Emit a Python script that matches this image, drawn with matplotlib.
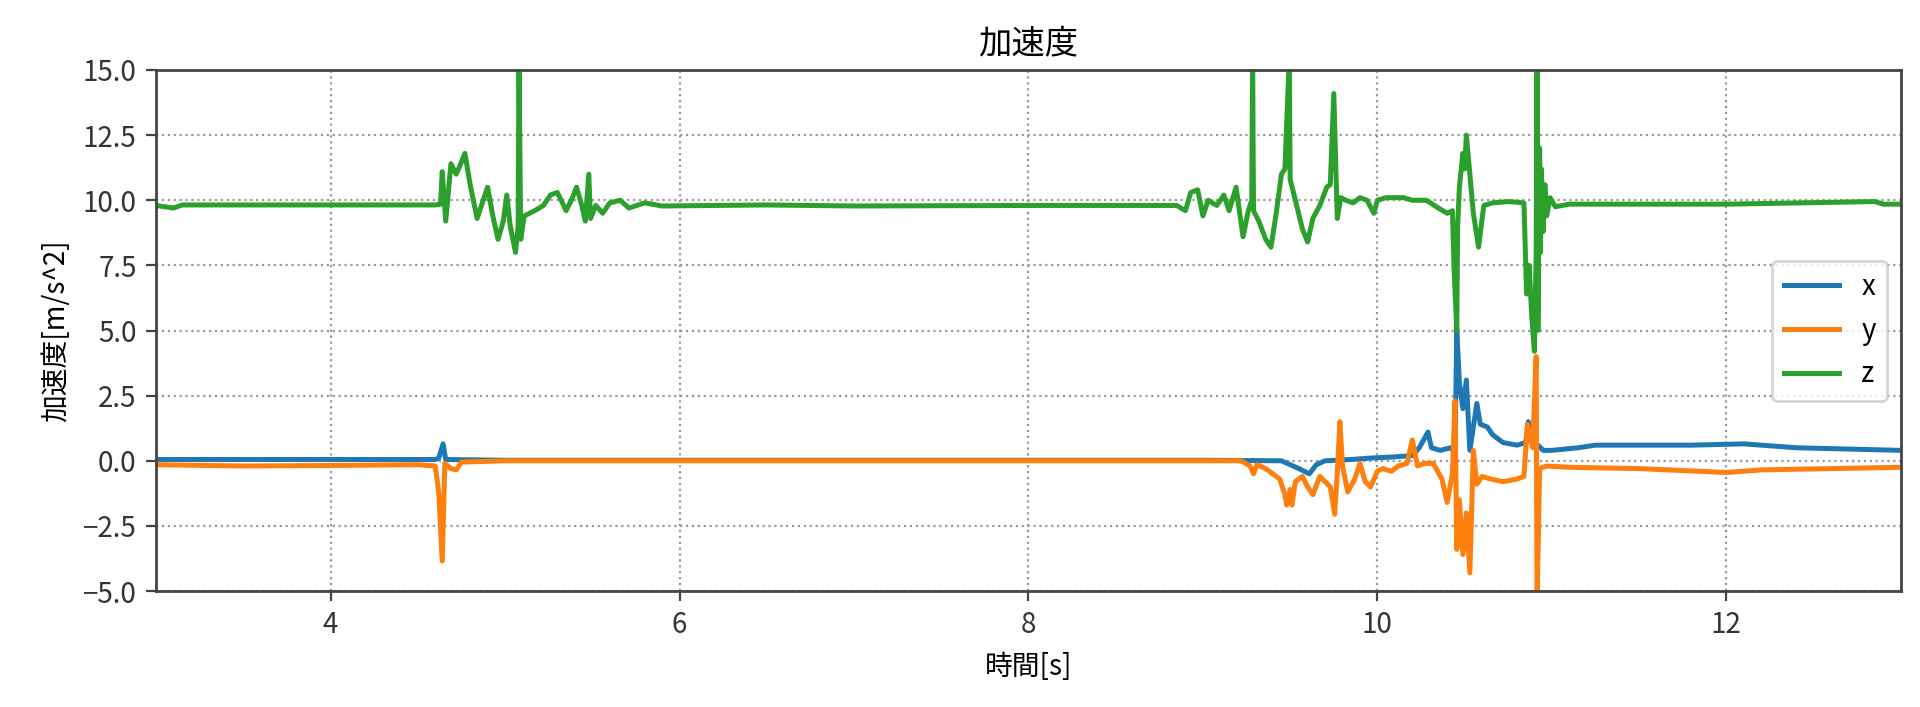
import matplotlib
matplotlib.use("Agg")
import matplotlib.pyplot as plt

plt.rcParams['font.family'] = ['Noto Sans CJK JP', 'DejaVu Sans']
plt.rcParams['axes.unicode_minus'] = True

# 時間[s] と加速度 (読み取った主要点)
t_x = [3.00, 4.60, 4.62, 4.645, 4.66, 5.00, 9.00, 9.45, 9.55, 9.61, 9.65, 9.70,
       9.85, 9.95, 10.10, 10.20, 10.24, 10.29, 10.31, 10.36, 10.42, 10.445, 10.455,
       10.47, 10.49, 10.51, 10.53, 10.57, 10.59, 10.63, 10.66, 10.72, 10.80, 10.85,
       10.865, 10.89, 10.95, 11.00, 11.15, 11.25, 11.80, 12.10, 12.40, 13.00]
acc_x = [0.05, 0.05, 0.1, 0.65, 0.05, 0.02, 0.02, 0.0, -0.3, -0.5, -0.15, 0.0,
         0.05, 0.1, 0.15, 0.2, 0.5, 1.1, 0.5, 0.4, 0.5, 0.3, 5.0,
         3.0, 2.0, 3.1, 0.4, 2.2, 1.4, 1.3, 1.0, 0.7, 0.6, 0.7,
         1.5, 0.8, 0.4, 0.4, 0.5, 0.6, 0.6, 0.65, 0.5, 0.4]

t_y = [3.00, 3.50, 4.00, 4.50, 4.60, 4.62, 4.64, 4.655, 4.69, 4.72, 4.75, 5.00,
       9.19, 9.22, 9.27, 9.29, 9.31, 9.36, 9.40, 9.44, 9.47, 9.48, 9.50, 9.51,
       9.53, 9.57, 9.60, 9.63, 9.67, 9.70, 9.73, 9.755, 9.77, 9.785, 9.80, 9.83,
       9.87, 9.90, 9.93, 9.96, 10.00, 10.03, 10.08, 10.12, 10.17, 10.20, 10.23,
       10.27, 10.32, 10.37, 10.40, 10.43, 10.445, 10.455, 10.47, 10.49, 10.51,
       10.53, 10.55, 10.57, 10.60, 10.65, 10.72, 10.80, 10.84, 10.86, 10.89,
       10.91, 10.915, 10.93, 10.97, 11.10, 11.50, 12.00, 12.20, 13.00]
acc_y = [-0.15, -0.2, -0.18, -0.15, -0.2, -1.2, -3.85, -0.1, -0.3, -0.35, -0.05, 0.0,
         0.0, 0.0, -0.2, -0.5, -0.15, -0.3, -0.5, -0.7, -1.3, -1.7, -1.1, -1.7,
         -0.8, -0.6, -1.0, -1.3, -0.6, -0.8, -1.0, -2.05, -0.5, 1.5, -0.2, -1.2,
         -0.7, -0.1, -0.8, -1.0, -0.4, -0.3, -0.4, -0.2, -0.1, 0.8, -0.2,
         -0.1, -0.1, -0.7, -1.6, -0.5, 2.3, -3.4, -1.5, -3.6, -2.0,
         -4.3, 0.4, -0.9, -0.6, -0.7, -0.8, -0.7, -0.6, 1.4, 0.5,
         4.0, -5.5, -0.3, -0.2, -0.25, -0.3, -0.45, -0.35, -0.25]

t_z = [3.00, 3.10, 3.15, 4.00, 4.60, 4.63, 4.64, 4.66, 4.69, 4.72, 4.74, 4.77,
       4.80, 4.84, 4.87, 4.90, 4.93, 4.96, 4.99, 5.01, 5.03, 5.06, 5.075, 5.08,
       5.09, 5.11, 5.17, 5.22, 5.26, 5.30, 5.35, 5.38, 5.41, 5.44, 5.46, 5.48,
       5.49, 5.52, 5.56, 5.60, 5.66, 5.71, 5.80, 5.90, 6.50, 7.00, 8.00, 8.85,
       8.90, 8.93, 8.97, 9.00, 9.03, 9.08, 9.12, 9.15, 9.19, 9.23, 9.26, 9.28,
       9.285, 9.29, 9.32, 9.36, 9.39, 9.42, 9.45, 9.47, 9.495, 9.50, 9.53, 9.57,
       9.60, 9.63, 9.67, 9.71, 9.73, 9.75, 9.77, 9.79, 9.82, 9.86, 9.90, 9.94,
       9.98, 10.00, 10.05, 10.15, 10.20, 10.28, 10.35, 10.40, 10.43, 10.44, 10.455,
       10.46, 10.47, 10.49, 10.50, 10.51, 10.53, 10.55, 10.58, 10.61, 10.66, 10.75,
       10.84, 10.855, 10.87, 10.885, 10.90, 10.91, 10.915, 10.92, 10.93, 10.935,
       10.94, 10.95, 10.96, 10.97, 10.99, 11.02, 11.10, 12.00, 12.85, 12.90, 13.00]
acc_z = [9.80, 9.70, 9.82, 9.82, 9.82, 9.85, 11.1, 9.2, 11.4, 11.0, 11.3, 11.8,
         10.6, 9.3, 9.9, 10.5, 9.4, 8.5, 9.2, 10.2, 9.0, 8.0, 9.0, 15.5,
         8.5, 9.4, 9.6, 9.8, 10.2, 10.3, 9.6, 10.0, 10.5, 9.8, 9.2, 11.0,
         9.3, 9.8, 9.5, 9.9, 10.0, 9.7, 9.9, 9.78, 9.82, 9.78, 9.80, 9.80,
         9.6, 10.3, 10.4, 9.4, 10.0, 9.8, 10.2, 9.6, 10.5, 8.6, 9.6, 10.0,
         15.5, 9.6, 9.2, 8.5, 8.2, 9.5, 11.0, 11.2, 15.5, 10.8, 10.0, 8.9,
         8.4, 9.3, 9.8, 10.5, 10.6, 14.1, 9.3, 10.1, 10.0, 9.9, 10.1, 10.0,
         9.5, 10.0, 10.1, 10.1, 10.0, 10.0, 9.7, 9.5, 9.6, 7.3, 5.0,
         9.0, 10.5, 11.8, 11.2, 12.5, 11.0, 9.5, 8.2, 9.8, 9.9, 9.95,
         9.9, 6.4, 7.5, 5.5, 4.2, 8.0, 15.5, 5.0, 12.0, 8.0,
         11.2, 8.8, 10.6, 9.4, 10.1, 9.75, 9.85, 9.85, 9.95, 9.85, 9.85]

fig, ax = plt.subplots(figsize=(9.6, 3.535), dpi=200)
fig.subplots_adjust(left=0.0813, right=0.990, bottom=0.164, top=0.901)

ax.plot(t_x, acc_x, label='x', lw=1.8)
ax.plot(t_y, acc_y, label='y', lw=1.8)
ax.plot(t_z, acc_z, label='z', lw=1.8)

ax.set_xlim(3, 13)
ax.set_ylim(-5, 15)
ax.set_title('加速度')
ax.set_xlabel('時間[s]')
ax.set_ylabel('加速度[m/s^2]')
ax.grid(linestyle=':', color='#999999')
for sp in ax.spines.values():
    sp.set_color('#444444')
    sp.set_linewidth(1.0)
ax.tick_params(color='#444444', labelcolor='#333333')
ax.legend(loc='center right')

fig.savefig('out.png', dpi=200)
